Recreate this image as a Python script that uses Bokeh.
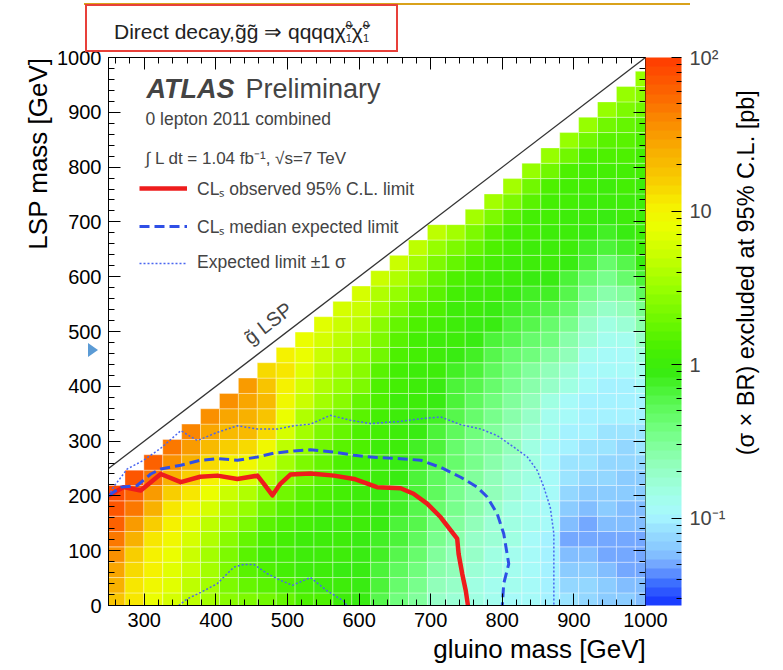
import numpy as np
from bokeh.plotting import figure
from bokeh.models import (ColumnDataSource, LogColorMapper, ColorBar, FixedTicker,
                          LinearAxis, Label, Div, Range1d, Legend, LegendItem,
                          SingleIntervalTicker)
from bokeh.layouts import column
from bokeh.embed import file_html
from bokeh.resources import INLINE

FONT = "Liberation Sans"
NBSP = "\u00a0"

# ---------------- data ----------------
gluino_centers = [259.8, 286.2, 312.6, 339.0, 365.4, 391.8, 418.2, 444.6, 471.0, 497.4,
                  523.8, 550.2, 576.6, 603.0, 629.4, 655.8, 682.2, 708.6, 735.0, 761.4,
                  787.8, 814.2, 840.6, 867.0, 893.4, 919.8, 946.2, 972.6, 999.0]
lsp_centers = [9, 37, 65, 93, 121, 149, 177, 205, 233, 261, 289, 317, 345, 373, 401, 429,
               457, 485, 513, 541, 569, 597, 625, 653, 681, 709, 737, 765, 793, 821, 849,
               877, 905, 933, 961]
bin_width = 26.4
bin_height = 28.0

# log10(sigma x BR excluded [pb]); one list per gluino column, lowest LSP bin first
log10_xsec = [
    [1.25, 1.35, 1.45, 1.55, 1.7, 1.8, 1.85, 1.9],
    [1.05, 1.08, 1.12, 1.22, 1.35, 1.5, 1.68, 1.8, 1.85],
    [0.92, 0.95, 1.0, 1.02, 1.1, 1.2, 1.38, 1.52, 1.68, 1.8],
    [0.8, 0.82, 0.86, 0.9, 0.95, 1.0, 1.08, 1.22, 1.4, 1.55, 1.7],
    [0.65, 0.66, 0.7, 0.75, 0.8, 0.86, 0.94, 1.05, 1.2, 1.35, 1.5, 1.62],
    [0.55, 0.52, 0.52, 0.55, 0.6, 0.68, 0.78, 0.9, 1.02, 1.15, 1.3, 1.45, 1.58],
    [0.45, 0.38, 0.36, 0.38, 0.44, 0.52, 0.62, 0.75, 0.88, 1.02, 1.18, 1.32, 1.45, 1.55],
    [0.35, 0.25, 0.2, 0.2, 0.25, 0.35, 0.48, 0.62, 0.78, 0.95, 1.12, 1.3, 1.4, 1.45, 1.5],
    [0.28, 0.16, 0.1, 0.08, 0.12, 0.2, 0.3, 0.45, 0.6, 0.78, 0.95, 1.15, 1.28, 1.3, 1.25, 1.12],
    [0.22, 0.1, 0.05, 0.04, 0.06, 0.12, 0.2, 0.3, 0.42, 0.55, 0.68, 0.8, 0.9, 0.98, 1.02, 1.05, 1.02],
    [0.15, 0.06, 0.02, 0.01, 0.03, 0.07, 0.13, 0.2, 0.28, 0.37, 0.46, 0.55, 0.63, 0.7, 0.76, 0.82,
     0.87, 0.9],
    [0.1, 0.03, 0.0, -0.01, 0.0, 0.03, 0.07, 0.12, 0.18, 0.24, 0.3, 0.37, 0.44, 0.52, 0.6, 0.67,
     0.73, 0.78, 0.82],
    [0.02, -0.02, -0.03, -0.02, 0.0, 0.02, 0.03, 0.05, 0.08, 0.12, 0.18, 0.25, 0.32, 0.4, 0.48,
     0.55, 0.62, 0.68, 0.74, 0.8],
    [-0.08, -0.08, -0.06, -0.05, -0.03, -0.02, 0.0, 0.02, 0.04, 0.06, 0.1, 0.15, 0.2, 0.27, 0.34,
     0.42, 0.5, 0.57, 0.64, 0.7, 0.76],
    [-0.22, -0.18, -0.15, -0.12, -0.1, -0.08, -0.05, -0.03, -0.01, 0.0, 0.02, 0.04, 0.06, 0.1,
     0.15, 0.2, 0.28, 0.36, 0.45, 0.54, 0.63, 0.72],
    [-0.4, -0.33, -0.28, -0.22, -0.18, -0.15, -0.12, -0.1, -0.08, -0.05, -0.02, 0.0, 0.02, 0.03,
     0.05, 0.08, 0.12, 0.18, 0.25, 0.35, 0.48, 0.6, 0.7],
    [-0.55, -0.48, -0.42, -0.36, -0.3, -0.26, -0.22, -0.19, -0.16, -0.13, -0.1, -0.07, -0.04,
     -0.02, 0.0, 0.02, 0.04, 0.07, 0.12, 0.2, 0.3, 0.42, 0.55, 0.68],
    [-0.68, -0.62, -0.56, -0.5, -0.45, -0.4, -0.35, -0.31, -0.27, -0.23, -0.2, -0.16, -0.12,
     -0.08, -0.05, -0.02, 0.0, 0.02, 0.05, 0.1, 0.16, 0.25, 0.36, 0.5, 0.65],
    [-0.78, -0.72, -0.67, -0.62, -0.57, -0.52, -0.48, -0.44, -0.4, -0.36, -0.32, -0.28, -0.24,
     -0.2, -0.15, -0.1, -0.06, -0.02, 0.0, 0.03, 0.07, 0.14, 0.24, 0.38, 0.55],
    [-0.85, -0.8, -0.76, -0.72, -0.68, -0.64, -0.6, -0.56, -0.52, -0.48, -0.44, -0.4, -0.35,
     -0.3, -0.25, -0.2, -0.14, -0.08, -0.03, 0.0, 0.02, 0.06, 0.12, 0.22, 0.36, 0.55],
    [-0.9, -0.87, -0.84, -0.8, -0.77, -0.74, -0.7, -0.67, -0.63, -0.59, -0.55, -0.5, -0.45,
     -0.4, -0.34, -0.28, -0.22, -0.15, -0.08, -0.03, 0.0, 0.02, 0.05, 0.1, 0.2, 0.35, 0.55],
    [-0.93, -0.91, -0.89, -0.87, -0.85, -0.82, -0.8, -0.77, -0.74, -0.7, -0.66, -0.62, -0.57,
     -0.52, -0.46, -0.4, -0.33, -0.26, -0.18, -0.1, -0.04, 0.0, 0.02, 0.04, 0.08, 0.18, 0.34, 0.52],
    [-0.96, -0.95, -0.94, -0.93, -0.92, -0.9, -0.88, -0.86, -0.84, -0.82, -0.8, -0.76, -0.72,
     -0.66, -0.58, -0.5, -0.42, -0.34, -0.26, -0.18, -0.1, -0.04, 0.0, 0.02, 0.04, 0.08, 0.16,
     0.32, 0.5],
    [-1.0, -1.0, -1.0, -1.0, -0.98, -0.97, -0.96, -0.95, -0.94, -0.93, -0.92, -0.9, -0.86, -0.8,
     -0.72, -0.62, -0.52, -0.42, -0.32, -0.22, -0.14, -0.07, -0.02, 0.0, 0.02, 0.04, 0.08, 0.15,
     0.3, 0.5],
    [-1.08, -1.12, -1.18, -1.25, -1.3, -1.25, -1.18, -1.12, -1.08, -1.05, -1.02, -1.0, -0.97,
     -0.92, -0.85, -0.76, -0.66, -0.56, -0.46, -0.36, -0.26, -0.16, -0.08, -0.02, 0.0, 0.02, 0.04,
     0.08, 0.15, 0.3, 0.48],
    [-1.12, -1.14, -1.18, -1.22, -1.28, -1.3, -1.25, -1.18, -1.12, -1.08, -1.05, -1.03, -1.01,
     -0.99, -0.96, -0.92, -0.86, -0.78, -0.68, -0.56, -0.44, -0.32, -0.2, -0.1, -0.04, 0.0, 0.02,
     0.04, 0.08, 0.15, 0.3, 0.48],
    [-1.18, -1.2, -1.26, -1.3, -1.28, -1.24, -1.2, -1.16, -1.14, -1.1, -1.07, -1.05, -1.03, -1.01,
     -0.99, -0.97, -0.94, -0.9, -0.82, -0.72, -0.6, -0.46, -0.32, -0.2, -0.1, -0.03, 0.0, 0.02,
     0.05, 0.1, 0.18, 0.32, 0.48],
    [-1.2, -1.24, -1.3, -1.33, -1.3, -1.26, -1.22, -1.18, -1.2, -1.15, -1.1, -1.06, -1.03, -1.0,
     -0.98, -0.96, -0.92, -0.86, -0.76, -0.64, -0.5, -0.36, -0.22, -0.1, -0.03, 0.0, 0.02, 0.04,
     0.06, 0.1, 0.16, 0.25, 0.36, 0.5],
    [-1.22, -1.26, -1.3, -1.32, -1.3, -1.26, -1.22, -1.2, -1.16, -1.12, -1.08, -1.05, -1.02, -1.0,
     -0.97, -0.9, -0.8, -0.68, -0.56, -0.45, -0.3, -0.18, -0.08, -0.02, 0.0, 0.01, 0.02, 0.03,
     0.05, 0.08, 0.12, 0.2, 0.3, 0.4, 0.5],
]

# exclusion contours (gluino mass, LSP mass) in GeV
obs_x = [250, 271, 295, 323, 351, 378, 402, 430, 458, 467, 479, 490, 504, 532, 565, 593, 625,
         658, 676, 695, 714, 728, 737, 739, 744, 749, 752]
obs_y = [200, 216, 210, 240, 225, 235, 237, 231, 237, 222, 201, 222, 239, 241, 237, 231, 216,
         214, 204, 186, 161, 137, 122, 94, 58, 27, 0]
exp_x = [250, 267, 290, 309, 323, 351, 378, 402, 430, 458, 481, 509, 532, 565, 593, 625, 658,
         686, 714, 742, 765, 779, 793, 802, 809, 802, 800]
exp_y = [200, 216, 219, 240, 249, 256, 265, 268, 265, 271, 278, 282, 284, 280, 274, 270, 268,
         265, 252, 234, 216, 198, 167, 131, 76, 40, 0]
up_x = [250, 257, 276, 299, 323, 351, 374, 402, 430, 458, 486, 509, 532, 560, 588, 616, 658,
        686, 714, 742, 770, 793, 816, 835, 849, 858, 867, 872, 872]
up_y = [200, 216, 249, 265, 287, 319, 301, 316, 328, 322, 322, 328, 331, 347, 338, 332, 336,
        341, 344, 330, 322, 310, 289, 271, 246, 216, 179, 131, 0]
dn_x = [348, 360, 379, 402, 425, 439, 453, 472, 490, 507, 532, 555, 581, 582]
dn_y = [0, 12, 24, 40, 70, 75, 75, 58, 46, 37, 51, 27, 6, 0]

kin_x = [250, 1000]
kin_y = [250, 1000]

z_low, z_high = 0.027, 100.0
cbar_ticks = [0.1, 1, 10, 100]
cbar_labels = {0.1: "10⁻¹", 1: "1", 10: "10", 100: "10²"}

# ---------------- palette (style) ----------------
stop_v = [-1.57, -1.45, -1.35, -1.25, -1.12, -1.0, -0.85, -0.65, -0.45, -0.25, -0.05, 0.1,
          0.3, 0.5, 0.7, 0.9, 1.05, 1.2, 1.4, 1.6, 1.8, 2.0]
stop_c = ["#1a3cff", "#3c6eff", "#6ea0ff", "#86c4ff", "#96dcff", "#a8f8ff", "#a0ffe4",
          "#90ffb8", "#74ff84", "#58f850", "#38ec10", "#48f000", "#70f800", "#98ff00",
          "#c4ff00", "#eaff00", "#f6f000", "#f8d000", "#f8b000", "#fa8c00", "#fc6400", "#ff4000"]
rgb = np.array([[int(c[i:i + 2], 16) for i in (1, 3, 5)] for c in stop_c], dtype=float)
nc = 60
grid_v = np.linspace(np.log10(z_low), np.log10(z_high), nc)
palette = []
for v in grid_v:
    r, g, b = (int(round(np.interp(v, stop_v, rgb[:, k]))) for k in range(3))
    palette.append("#%02x%02x%02x" % (r, g, b))

# ---------------- figure ----------------
xs, ys, zs = [], [], []
for i, col in enumerate(log10_xsec):
    for j, lv in enumerate(col):
        xs.append(gluino_centers[i])
        ys.append(lsp_centers[j])
        zs.append(10 ** lv)
src = ColumnDataSource(dict(x=xs, y=ys, z=zs))
mapper = LogColorMapper(palette=palette, low=z_low, high=z_high)

p = figure(width=783, height=625, x_range=Range1d(250, 1000), y_range=Range1d(0, 1000),
           output_backend="svg", toolbar_location=None,
           min_border_left=108, min_border_right=138, min_border_top=12, min_border_bottom=65)
p.margin = 0
p.grid.visible = False
p.outline_line_color = "black"
p.background_fill_color = "white"
p.border_fill_color = None

p.rect(x="x", y="y", width=bin_width, height=bin_height, source=src,
       fill_color={"field": "z", "transform": mapper},
       line_color="white", line_alpha=0.35, line_width=1)

p.line(kin_x, kin_y, line_color="#333333", line_width=1.3)

r_obs = p.line(obs_x, obs_y, line_color="#ee1c1c", line_width=4.5, line_join="round")
r_exp = p.line(exp_x, exp_y, line_color="#2f4fe6", line_width=3, line_dash="10 5")
r_up = p.line(up_x, up_y, line_color="#4a66f0", line_width=1.5, line_dash="2 2")
p.line(dn_x, dn_y, line_color="#4a66f0", line_width=1.5, line_dash="2 2")

# axes
for ax in (p.xaxis[0], p.yaxis[0]):
    ax.ticker = SingleIntervalTicker(interval=100, num_minor_ticks=5)
    ax.major_tick_in = 12
    ax.major_tick_out = 0
    ax.minor_tick_in = 6
    ax.minor_tick_out = 0
    ax.major_label_text_font = FONT
    ax.major_label_text_font_size = "20px"
    ax.major_label_text_color = "black"
    ax.axis_line_color = "black"
    ax.major_label_standoff = 7

for side in ("above", "right"):
    ax = LinearAxis(ticker=SingleIntervalTicker(interval=100, num_minor_ticks=5),
                    major_label_text_font_size="0px", major_tick_in=12, major_tick_out=0,
                    minor_tick_in=6, minor_tick_out=0, major_label_standoff=0,
                    axis_line_color="black")
    p.add_layout(ax, side)


def title_axis(label, size, standoff, orientation=None, align=None):
    ax = LinearAxis(ticker=FixedTicker(ticks=[]), major_label_text_font_size="0px",
                    major_tick_line_color=None, minor_tick_line_color=None,
                    axis_line_color=None, major_label_standoff=0,
                    axis_label=label, axis_label_text_font=FONT,
                    axis_label_text_font_style="normal", axis_label_text_font_size=size,
                    axis_label_text_color="black", axis_label_standoff=standoff)
    try:
        if orientation is not None:
            ax.axis_label_orientation = orientation
        if align is not None:
            ax.axis_label_align = align
    except Exception:
        pass
    return ax


# x title: centred label padded on the left so that its visible end meets the frame end
p.add_layout(title_axis(NBSP * 45 + "gluino mass [GeV]", "26px", 4), "below")
p.add_layout(title_axis("LSP mass [GeV]", "26px", 17, np.pi / 2, "end"), "left")

cbar = ColorBar(color_mapper=mapper, width=36, padding=0, margin=2,
                ticker=FixedTicker(ticks=cbar_ticks,
                                   minor_ticks=[k * 10.0 ** e for e in (-2, -1, 0, 1)
                                                for k in range(2, 10)]),
                major_label_overrides=cbar_labels,
                major_label_text_font=FONT, major_label_text_font_size="20px",
                label_standoff=8, major_tick_in=10, major_tick_out=0,
                minor_tick_in=5, minor_tick_out=0,
                major_tick_line_color="black", minor_tick_line_color="black",
                bar_line_color=None, background_fill_color=None)
p.add_layout(cbar, "right")

z_title = NBSP * 23 + "(σ × BR) excluded at 95% C.L. [pb]"
p.add_layout(title_axis(z_title, "23.5px", 17, np.pi / 2, "start"), "right")

# legend
legend = Legend(items=[LegendItem(label="CLₛ observed 95% C.L. limit", renderers=[r_obs]),
                       LegendItem(label="CLₛ median expected limit", renderers=[r_exp]),
                       LegendItem(label="Expected limit ±1 σ", renderers=[r_up])],
                location=(31, 332), border_line_color=None, background_fill_alpha=0,
                label_text_font=FONT, label_text_font_size="17.5px", glyph_width=48,
                glyph_height=20, label_height=20, spacing=14, padding=0, margin=0,
                label_standoff=10)
p.add_layout(legend)


def slabel(x, y, text, size, **kw):
    p.add_layout(Label(x=x, y=y, x_units="screen", y_units="screen", text=text,
                       text_font=FONT, text_font_size=size, text_baseline="middle", **kw))


slabel(38, 517, "ATLAS", "27px", text_font_style="bold italic")
slabel(137, 517, "Preliminary", "27px")
slabel(37, 487, "0 lepton 2011 combined", "17.5px")
slabel(37, 447, "∫ L dt = 1.04 fb⁻¹, √s=7 TeV", "17px")

p.add_layout(Label(x=473, y=515, text="g̃ LSP", angle=0.656, text_font=FONT,
                   text_font_size="20px", text_align="center", text_baseline="middle"))

sub = ('<span style="display:inline-block;font-size:11px;line-height:13px;'
       'vertical-align:middle;">0<br>1</span>')
header = (
    '<div style="position:relative;width:783px;height:45px;font-family:\'Liberation Sans\',sans-serif;">'
    '<div style="position:absolute;left:84px;top:3px;width:606px;border-top:2px solid #d9a21b;"></div>'
    '<div style="position:absolute;left:85px;top:4px;width:313px;height:48px;border:2px solid #e8403a;'
    'background:#fff;font-size:21px;color:#222;display:flex;align-items:center;justify-content:center;'
    'padding-top:7px;box-sizing:border-box;">'
    'Direct decay,g̃g̃ ⇒ qqqqχ̃' + sub + 'χ̃' + sub + '</div>'
    '<div style="position:absolute;left:88px;top:343px;width:0;height:0;'
    'border-left:10px solid #5b9bd5;border-top:7px solid transparent;'
    'border-bottom:7px solid transparent;"></div>'
    '</div>'
)
div = Div(text=header, width=783, height=45, margin=0,
          styles={"overflow": "visible", "z-index": "5", "position": "relative"})

layout = column(div, p, spacing=0)
open("out.html", "w").write(file_html(layout, INLINE))
